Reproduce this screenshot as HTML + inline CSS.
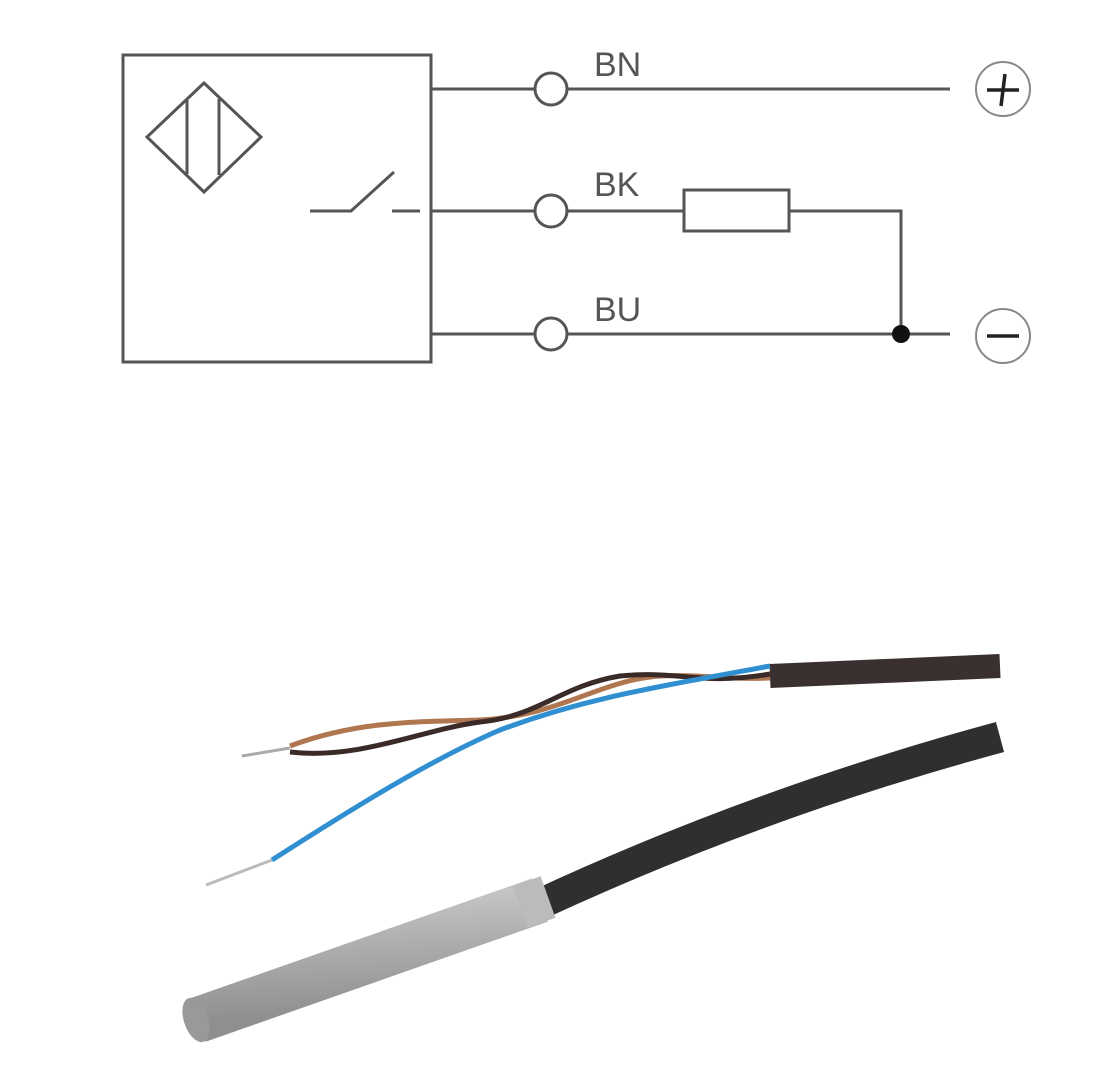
<!DOCTYPE html>
<html><head><style>html,body{margin:0;padding:0;background:#fff;}svg{display:block}.lbl{font-family:"Liberation Sans",Arial,sans-serif;font-size:34px;fill:#555;}</style></head>
<body>
<svg width="1100" height="1080" viewBox="0 0 1100 1080" xmlns="http://www.w3.org/2000/svg">
<defs>
<linearGradient id="metal" x1="0" y1="0" x2="0.15" y2="1">
<stop offset="0" stop-color="#c8c8c8"/><stop offset="0.4" stop-color="#b0b0b0"/><stop offset="1" stop-color="#8f8f8f"/>
</linearGradient>
</defs>
<g fill="none" stroke="#555" stroke-width="3">
<rect x="123" y="55" width="308" height="307"/>
<polygon points="147,137 204,83 261,137 204,192"/>
<line x1="187" y1="100" x2="187" y2="174"/>
<line x1="219" y1="99" x2="219" y2="175"/>
<polyline points="310,211 351,211 394,172"/>
<line x1="392" y1="211" x2="420" y2="211"/>
<line x1="431" y1="89" x2="535" y2="89"/>
<line x1="431" y1="211" x2="535" y2="211"/>
<line x1="431" y1="334" x2="535" y2="334"/>
<circle cx="551" cy="89" r="16"/>
<circle cx="551" cy="211" r="16"/>
<circle cx="551" cy="334" r="16"/>
<line x1="567" y1="89" x2="950" y2="89"/>
<line x1="567" y1="211" x2="684" y2="211"/>
<rect x="684" y="190" width="105" height="41"/>
<polyline points="789,211 901,211 901,334"/>
<line x1="567" y1="334" x2="950" y2="334"/>
<circle cx="1003" cy="89" r="27" stroke="#888" stroke-width="2"/>
<circle cx="1003" cy="336" r="27" stroke="#888" stroke-width="2"/>
<line x1="987" y1="90" x2="1019" y2="90" stroke="#222" stroke-width="3.5"/>
<line x1="1005" y1="74" x2="1001" y2="106" stroke="#222" stroke-width="3.5"/>
<line x1="987" y1="336" x2="1019" y2="336" stroke="#222" stroke-width="3.5"/>
</g>
<circle cx="901" cy="334" r="9" fill="#111"/>
<text class="lbl" x="594" y="76">BN</text>
<text class="lbl" x="594" y="196">BK</text>
<text class="lbl" x="594" y="321">BU</text>
<!-- cable -->
<path d="M540,904 Q760,802 1000,737" stroke="#2f2f2f" stroke-width="31" fill="none"/>
<line x1="198" y1="1020" x2="540" y2="900" stroke="url(#metal)" stroke-width="46"/>
<ellipse cx="196" cy="1020" rx="12" ry="23" transform="rotate(-19 196 1020)" fill="#999"/>
<line x1="520" y1="907" x2="548" y2="897" stroke="#bbb" stroke-width="44"/>
<line x1="770" y1="676" x2="1000" y2="666" stroke="#3a3030" stroke-width="24"/>
<path d="M290,746 C360,720 420,722 480,720 C560,716 600,680 660,676 C700,674 730,680 770,678" stroke="#b07650" stroke-width="5" fill="none"/>
<path d="M290,752 C360,760 420,730 480,722 C540,716 560,686 620,676 C680,670 700,686 770,674" stroke="#3a2a28" stroke-width="5" fill="none"/>
<path d="M272,860 C350,810 430,760 500,730 C580,700 640,690 770,666" stroke="#2f8fd0" stroke-width="5" fill="none"/>
<line x1="242" y1="756" x2="290" y2="748" stroke="#aaa" stroke-width="3"/>
<line x1="206" y1="885" x2="272" y2="860" stroke="#bbb" stroke-width="3"/>
</svg>
</body></html>
